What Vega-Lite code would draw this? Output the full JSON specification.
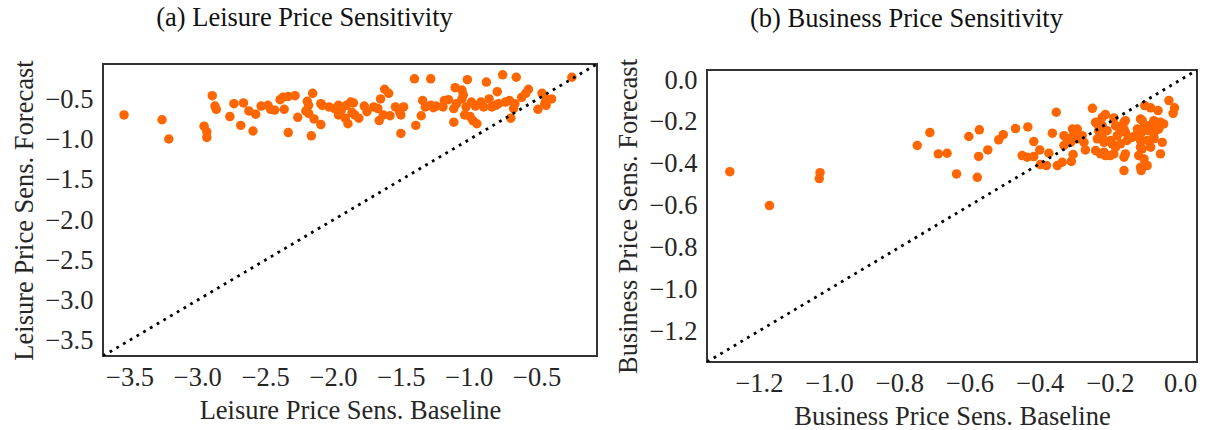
{
  "$schema": "https://vega.github.io/schema/vega-lite/v6.json",
  "background": "white",
  "padding": {"left": 10, "top": 4, "right": 6, "bottom": 2},
  "spacing": 16,
  "datasets": {
    "leisure": [
      {"x": -3.54, "y": -0.69}, {"x": -3.26, "y": -0.75}, {"x": -3.21, "y": -0.99}, {"x": -2.89, "y": -0.45},
      {"x": -2.87, "y": -0.58}, {"x": -2.86, "y": -0.62}, {"x": -2.95, "y": -0.83}, {"x": -2.93, "y": -0.90},
      {"x": -2.93, "y": -0.97}, {"x": -2.76, "y": -0.71}, {"x": -2.73, "y": -0.55}, {"x": -2.68, "y": -0.82},
      {"x": -2.66, "y": -0.54}, {"x": -2.62, "y": -0.64}, {"x": -2.59, "y": -0.89}, {"x": -2.57, "y": -0.68},
      {"x": -2.53, "y": -0.58}, {"x": -2.48, "y": -0.57}, {"x": -2.46, "y": -0.62}, {"x": -2.43, "y": -0.63},
      {"x": -2.39, "y": -0.50}, {"x": -2.37, "y": -0.47}, {"x": -2.33, "y": -0.46}, {"x": -2.28, "y": -0.45},
      {"x": -2.36, "y": -0.62}, {"x": -2.33, "y": -0.91}, {"x": -2.26, "y": -0.72}, {"x": -2.19, "y": -0.52},
      {"x": -2.18, "y": -0.57}, {"x": -2.20, "y": -0.64}, {"x": -2.18, "y": -0.67}, {"x": -2.15, "y": -0.42},
      {"x": -2.14, "y": -0.74}, {"x": -2.16, "y": -0.95}, {"x": -2.09, "y": -0.55}, {"x": -2.09, "y": -0.81},
      {"x": -2.08, "y": -0.57}, {"x": -2.03, "y": -0.59}, {"x": -1.99, "y": -0.61}, {"x": -1.96, "y": -0.57},
      {"x": -1.94, "y": -0.59}, {"x": -1.96, "y": -0.69}, {"x": -1.94, "y": -0.63}, {"x": -1.91, "y": -0.73},
      {"x": -1.89, "y": -0.80}, {"x": -1.90, "y": -0.57}, {"x": -1.87, "y": -0.53}, {"x": -1.85, "y": -0.54},
      {"x": -1.84, "y": -0.69}, {"x": -1.81, "y": -0.73}, {"x": -1.86, "y": -0.66}, {"x": -1.77, "y": -0.58},
      {"x": -1.75, "y": -0.65}, {"x": -1.70, "y": -0.59}, {"x": -1.67, "y": -0.61}, {"x": -1.66, "y": -0.76},
      {"x": -1.65, "y": -0.49}, {"x": -1.62, "y": -0.37}, {"x": -1.59, "y": -0.42}, {"x": -1.63, "y": -0.69},
      {"x": -1.58, "y": -0.70}, {"x": -1.54, "y": -0.59}, {"x": -1.51, "y": -0.65}, {"x": -1.48, "y": -0.59},
      {"x": -1.50, "y": -0.69}, {"x": -1.50, "y": -0.92}, {"x": -1.40, "y": -0.24}, {"x": -1.28, "y": -0.24},
      {"x": -1.39, "y": -0.82}, {"x": -1.35, "y": -0.70}, {"x": -1.34, "y": -0.51}, {"x": -1.32, "y": -0.59},
      {"x": -1.28, "y": -0.57}, {"x": -1.26, "y": -0.60}, {"x": -1.24, "y": -0.58}, {"x": -1.19, "y": -0.59},
      {"x": -1.18, "y": -0.51}, {"x": -1.15, "y": -0.50}, {"x": -1.11, "y": -0.61}, {"x": -1.09, "y": -0.55},
      {"x": -1.10, "y": -0.35}, {"x": -1.11, "y": -0.78}, {"x": -1.05, "y": -0.38}, {"x": -1.04, "y": -0.44},
      {"x": -1.01, "y": -0.25}, {"x": -1.05, "y": -0.49}, {"x": -1.02, "y": -0.59}, {"x": -0.98, "y": -0.53},
      {"x": -0.95, "y": -0.58}, {"x": -0.91, "y": -0.53}, {"x": -0.89, "y": -0.59}, {"x": -0.85, "y": -0.49},
      {"x": -0.83, "y": -0.59}, {"x": -0.80, "y": -0.57}, {"x": -0.78, "y": -0.55}, {"x": -1.03, "y": -0.69},
      {"x": -0.99, "y": -0.71}, {"x": -0.97, "y": -0.76}, {"x": -0.94, "y": -0.80}, {"x": -0.87, "y": -0.28},
      {"x": -0.79, "y": -0.40}, {"x": -0.75, "y": -0.19}, {"x": -0.65, "y": -0.22}, {"x": -0.73, "y": -0.53},
      {"x": -0.70, "y": -0.51}, {"x": -0.66, "y": -0.55}, {"x": -0.61, "y": -0.47}, {"x": -0.56, "y": -0.37},
      {"x": -0.58, "y": -0.42}, {"x": -0.69, "y": -0.73}, {"x": -0.67, "y": -0.61}, {"x": -0.46, "y": -0.42},
      {"x": -0.43, "y": -0.49}, {"x": -0.44, "y": -0.55}, {"x": -0.49, "y": -0.62}, {"x": -0.39, "y": -0.49},
      {"x": -0.43, "y": -0.57}, {"x": -0.24, "y": -0.22}
    ],
    "business": [
      {"x": -1.283, "y": -0.438}, {"x": -1.17, "y": -0.60}, {"x": -1.026, "y": -0.443}, {"x": -1.028, "y": -0.471},
      {"x": -0.749, "y": -0.313}, {"x": -0.713, "y": -0.251}, {"x": -0.689, "y": -0.353}, {"x": -0.664, "y": -0.350},
      {"x": -0.637, "y": -0.449}, {"x": -0.602, "y": -0.270}, {"x": -0.572, "y": -0.238}, {"x": -0.574, "y": -0.365},
      {"x": -0.578, "y": -0.465}, {"x": -0.548, "y": -0.334}, {"x": -0.517, "y": -0.286}, {"x": -0.504, "y": -0.261},
      {"x": -0.469, "y": -0.232}, {"x": -0.434, "y": -0.224}, {"x": -0.417, "y": -0.294}, {"x": -0.450, "y": -0.361},
      {"x": -0.436, "y": -0.369}, {"x": -0.417, "y": -0.366}, {"x": -0.400, "y": -0.334}, {"x": -0.374, "y": -0.350},
      {"x": -0.398, "y": -0.404}, {"x": -0.381, "y": -0.409}, {"x": -0.364, "y": -0.254}, {"x": -0.353, "y": -0.154},
      {"x": -0.350, "y": -0.409}, {"x": -0.336, "y": -0.393}, {"x": -0.310, "y": -0.389}, {"x": -0.305, "y": -0.356},
      {"x": -0.331, "y": -0.266}, {"x": -0.307, "y": -0.234}, {"x": -0.293, "y": -0.234}, {"x": -0.312, "y": -0.298},
      {"x": -0.293, "y": -0.281}, {"x": -0.279, "y": -0.266}, {"x": -0.274, "y": -0.298}, {"x": -0.322, "y": -0.281},
      {"x": -0.331, "y": -0.313}, {"x": -0.303, "y": -0.257}, {"x": -0.270, "y": -0.334}, {"x": -0.250, "y": -0.135},
      {"x": -0.236, "y": -0.210}, {"x": -0.222, "y": -0.178}, {"x": -0.213, "y": -0.165}, {"x": -0.189, "y": -0.181},
      {"x": -0.232, "y": -0.242}, {"x": -0.222, "y": -0.274}, {"x": -0.208, "y": -0.242}, {"x": -0.198, "y": -0.289},
      {"x": -0.184, "y": -0.218}, {"x": -0.179, "y": -0.266}, {"x": -0.160, "y": -0.234}, {"x": -0.156, "y": -0.194},
      {"x": -0.170, "y": -0.305}, {"x": -0.151, "y": -0.289}, {"x": -0.137, "y": -0.274}, {"x": -0.241, "y": -0.202},
      {"x": -0.222, "y": -0.218}, {"x": -0.175, "y": -0.226}, {"x": -0.160, "y": -0.202}, {"x": -0.156, "y": -0.250},
      {"x": -0.241, "y": -0.337}, {"x": -0.217, "y": -0.345}, {"x": -0.199, "y": -0.361}, {"x": -0.227, "y": -0.353},
      {"x": -0.213, "y": -0.361}, {"x": -0.189, "y": -0.353}, {"x": -0.184, "y": -0.321}, {"x": -0.194, "y": -0.305},
      {"x": -0.217, "y": -0.298}, {"x": -0.236, "y": -0.281}, {"x": -0.160, "y": -0.369}, {"x": -0.156, "y": -0.353},
      {"x": -0.160, "y": -0.433}, {"x": -0.127, "y": -0.266}, {"x": -0.122, "y": -0.234}, {"x": -0.108, "y": -0.194},
      {"x": -0.103, "y": -0.242}, {"x": -0.089, "y": -0.218}, {"x": -0.075, "y": -0.194}, {"x": -0.065, "y": -0.218},
      {"x": -0.056, "y": -0.202}, {"x": -0.070, "y": -0.242}, {"x": -0.113, "y": -0.289}, {"x": -0.094, "y": -0.289},
      {"x": -0.084, "y": -0.321}, {"x": -0.113, "y": -0.321}, {"x": -0.118, "y": -0.361}, {"x": -0.103, "y": -0.377},
      {"x": -0.094, "y": -0.409}, {"x": -0.113, "y": -0.417}, {"x": -0.111, "y": -0.433}, {"x": -0.056, "y": -0.353},
      {"x": -0.113, "y": -0.186}, {"x": -0.108, "y": -0.234}, {"x": -0.113, "y": -0.257}, {"x": -0.089, "y": -0.242},
      {"x": -0.080, "y": -0.218}, {"x": -0.047, "y": -0.210}, {"x": -0.061, "y": -0.234}, {"x": -0.075, "y": -0.281},
      {"x": -0.108, "y": -0.329}, {"x": -0.101, "y": -0.122}, {"x": -0.084, "y": -0.133}, {"x": -0.063, "y": -0.146},
      {"x": -0.032, "y": -0.098}, {"x": -0.016, "y": -0.133}, {"x": -0.020, "y": -0.159}, {"x": -0.075, "y": -0.274},
      {"x": -0.051, "y": -0.298}
    ],
    "diagL": [{"x": -3.695, "y": -3.695}, {"x": -0.055, "y": -0.055}],
    "diagB": [{"x": -1.348, "y": -1.348}, {"x": 0.048, "y": 0.048}]
  },
  "hconcat": [
    {
      "title": {"text": "(a) Leisure Price Sensitivity", "frame": "bounds", "anchor": "middle", "offset": 28},
      "width": 494,
      "height": 292,
      "encoding": {
        "x": {"field": "x", "type": "quantitative",
              "scale": {"domain": [-3.695, -0.055], "nice": false, "zero": false},
              "axis": {"title": "Leisure Price Sens. Baseline", "values": [-3.5, -3.0, -2.5, -2.0, -1.5, -1.0, -0.5], "format": ".1f"}},
        "y": {"field": "y", "type": "quantitative",
              "scale": {"domain": [-3.695, -0.055], "nice": false, "zero": false},
              "axis": {"title": "Leisure Price Sens. Forecast", "values": [-3.5, -3.0, -2.5, -2.0, -1.5, -1.0, -0.5], "format": ".1f"}}
      },
      "layer": [
        {"data": {"name": "leisure"}, "mark": {"type": "circle", "color": "#ff6600", "size": 90, "opacity": 1}},
        {"data": {"name": "diagL"}, "mark": {"type": "line", "color": "black", "strokeWidth": 2.8, "strokeDash": [2.8, 5], "clip": true}}
      ]
    },
    {
      "title": {"text": "(b) Business Price Sensitivity", "frame": "bounds", "anchor": "middle", "offset": 22, "dy": -3},
      "spacing": 0,
      "bounds": "flush",
      "vconcat": [
        {
          "width": 490,
          "height": 6,
          "view": {"stroke": null},
          "data": {"values": []},
          "mark": "point"
        },
        {
          "width": 490,
          "height": 292,
          "encoding": {
            "x": {"field": "x", "type": "quantitative",
                  "scale": {"domain": [-1.348, 0.048], "nice": false, "zero": false},
                  "axis": {"title": "Business Price Sens. Baseline", "values": [-1.2, -1.0, -0.8, -0.6, -0.4, -0.2, 0.0], "format": ".1f"}},
            "y": {"field": "y", "type": "quantitative",
                  "scale": {"domain": [-1.348, 0.048], "nice": false, "zero": false},
                  "axis": {"title": "Business Price Sens. Forecast", "values": [-1.2, -1.0, -0.8, -0.6, -0.4, -0.2, 0.0], "format": ".1f"}}
          },
          "layer": [
            {"data": {"name": "business"}, "mark": {"type": "circle", "color": "#ff6600", "size": 90, "opacity": 1}},
            {"data": {"name": "diagB"}, "mark": {"type": "line", "color": "black", "strokeWidth": 2.8, "strokeDash": [2.8, 5], "clip": true}}
          ]
        }
      ]
    }
  ],
  "config": {
    "font": "Liberation Serif",
    "view": {"stroke": "#333333", "strokeWidth": 2},
    "axis": {
      "grid": false, "ticks": false, "domain": false, "labelOverlap": false,
      "labelFont": "Liberation Serif", "labelFontSize": 26.5, "labelColor": "#262626",
      "titleFont": "Liberation Serif", "titleFontSize": 26.5, "titleFontWeight": "normal", "titleColor": "#262626"
    },
    "axisX": {"labelPadding": 8, "titlePadding": 7, "labelFlush": false},
    "axisY": {"labelPadding": 10, "titlePadding": 6},
    "title": {"font": "Liberation Serif", "fontSize": 26.5, "fontWeight": "normal", "color": "#111111"}
  }
}
